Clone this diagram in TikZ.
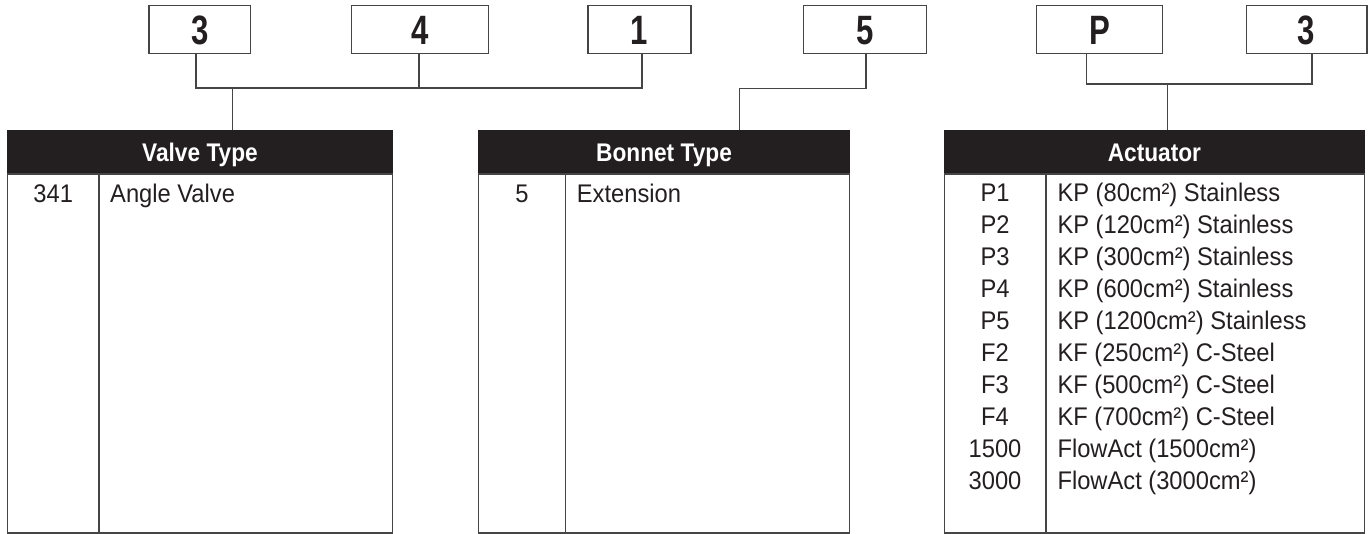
\documentclass[tikz,border=0pt]{standalone}
\usepackage{fontspec}
\setmainfont{Liberation Sans}[FakeStretch=0.93]
\newfontfamily\hdfont{Liberation Sans}[FakeStretch=0.89]
\newfontfamily\digfont{Liberation Sans}[FakeStretch=0.76]
\definecolor{ink}{HTML}{231F20}
\definecolor{rulec}{HTML}{454545}
\begin{document}
\begin{tikzpicture}[x=1pt,y=-1pt,
  codebox/.style={draw=rulec,line width=1.3pt,inner sep=0pt,minimum height=48.4pt,
     text height=29pt,text depth=0pt,font=\digfont\bfseries\fontsize{41}{41}\selectfont,text=ink},
  conn/.style={draw=rulec,line width=1.3pt},
  headbox/.style={fill=ink,draw=ink,line width=1.3pt,inner sep=0pt,minimum height=41.7pt,
     text height=18.3pt,text depth=0pt,text=white,font=\hdfont\bfseries\fontsize{25.5}{25.5}\selectfont},
  bodybox/.style={draw=rulec,line width=1.3pt,inner sep=0pt,minimum height=359pt},
  cell/.style={inner sep=0pt,text=ink,font=\fontsize{25.5}{25.5}\selectfont},
  codecell/.style={cell,anchor=base},
  desccell/.style={cell,anchor=base west}
]
\useasboundingbox (0,0) rectangle (1368,533);

% code boxes
\node[codebox,minimum width=101.3pt] (b3)  at (199.7,29.5) {3};
\node[codebox,minimum width=136.5pt] (b4)  at (420,29.5) {4};
\node[codebox,minimum width=103pt]   (b1)  at (639.5,29.5) {1};
\node[codebox,minimum width=123pt]   (b5)  at (864.8,29.5) {5};
\node[codebox,minimum width=126pt]   (bP)  at (1099.5,29.5) {P};
\node[codebox,minimum width=120.5pt] (b3b) at (1306.6,29.5) {3};

% tables: headers
\node[headbox,minimum width=385.4pt] (vh) at (200,151.85) {Valve Type};
\node[headbox,minimum width=371.4pt] (bh) at (664,151.85) {Bonnet Type};
\node[headbox,minimum width=420.2pt] (ah) at (1154.4,151.85) {Actuator};
% tables: bodies
\node[bodybox,minimum width=385.4pt,anchor=north] (vb) at (vh.south) {};
\node[bodybox,minimum width=371.4pt,anchor=north] (bb) at (bh.south) {};
\node[bodybox,minimum width=420.2pt,anchor=north] (ab) at (ah.south) {};

% column dividers
\coordinate (vd) at (99,0);
\coordinate (bd) at (565.7,0);
\coordinate (ad) at (1046,0);
\draw[conn] (vb.north -| vd) -- (vb.south -| vd);
\draw[conn] (bb.north -| bd) -- (bb.south -| bd);
\draw[conn] (ab.north -| ad) -- (ab.south -| ad);

% connectors
\coordinate (hv) at (232.5,88);
\draw[conn] ([xshift=-3.7pt]b3.south) |- (hv) -| ([xshift=2.5pt]b1.south);
\draw[conn] ([xshift=-1pt]b4.south) -- ([xshift=-1pt]b4.south |- hv);
\draw[conn] (hv) -- (hv |- vh.north);

\coordinate (hb) at (739.3,88.3);
\draw[conn] ([xshift=1.2pt]b5.south) |- (hb) -- (hb |- bh.north);

\coordinate (ha) at (1167.3,84);
\draw[conn] ([xshift=-12.8pt]bP.south) |- (ha) -| ([xshift=5.4pt]b3b.south);
\draw[conn] (ha) -- (ha |- ah.north);

% Valve Type rows
\node[codecell] (v1c) at (53.2,202) {341};
\node[desccell] (v1d) at (110,202) {Angle Valve};

% Bonnet Type rows
\node[codecell] (b1c) at (522,202) {5};
\node[desccell] (b1d) at (576.7,202) {Extension};

% Actuator rows
\foreach \c/\d [count=\i from 0] in {
  P1/{KP (80cm²) Stainless},
  P2/{KP (120cm²) Stainless},
  P3/{KP (300cm²) Stainless},
  P4/{KP (600cm²) Stainless},
  P5/{KP (1200cm²) Stainless},
  F2/{KF (250cm²) C-Steel},
  F3/{KF (500cm²) C-Steel},
  F4/{KF (700cm²) C-Steel},
  1500/{FlowAct (1500cm²)},
  3000/{FlowAct (3000cm²)}}{
  \node[codecell] (ac\i) at (995,201.7+31.97*\i) {\c};
  \node[desccell] (ad\i) at (1057.3,201.7+31.97*\i) {\d};
}
\end{tikzpicture}
\end{document}
